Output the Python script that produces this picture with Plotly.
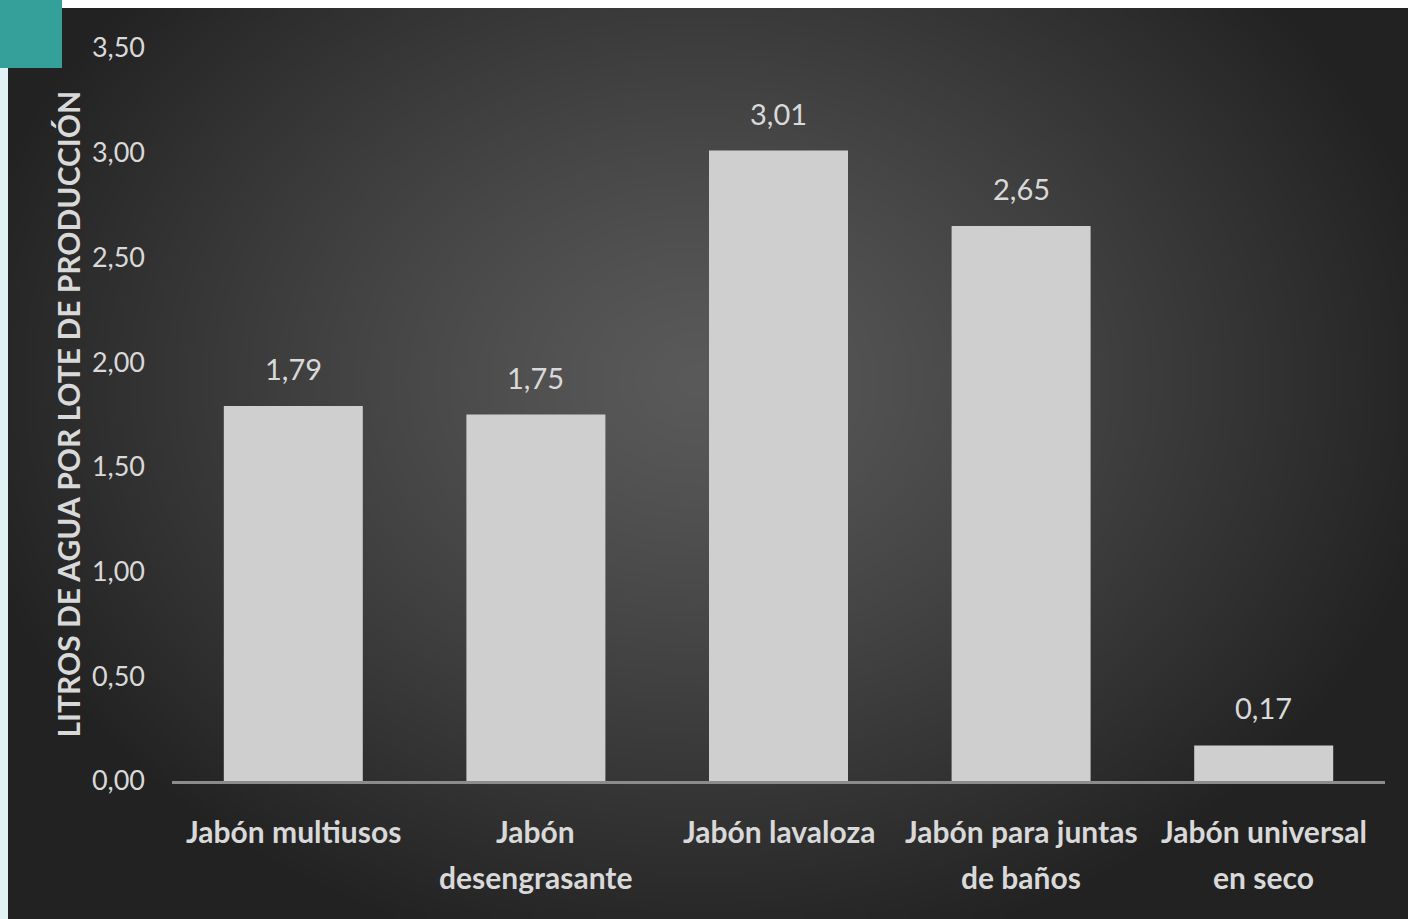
import plotly.graph_objects as go
import numpy as np
import zlib, struct, base64

# ---- data ----
categories = ["Jabón multiusos", "Jabón<br>desengrasante", "Jabón lavaloza",
              "Jabón para juntas<br>de baños", "Jabón universal<br>en seco"]
values = [1.79, 1.75, 3.01, 2.65, 0.17]
value_labels = ["1,79", "1,75", "3,01", "2,65", "0,17"]
y_tick_vals = [0, 0.5, 1.0, 1.5, 2.0, 2.5, 3.0, 3.5]
y_tick_text = ["0,00", "0,50", "1,00", "1,50", "2,00", "2,50", "3,00", "3,50"]
y_title = "LITROS DE AGUA POR LOTE DE PRODUCCIÓN"

# ---- canvas geometry ----
W, H = 1408, 919
ML, MR, MT, MB = 172, 23, 48, 138
PW, PH = W - ML - MR, H - MT - MB


def px_x(p):
    return (p - ML) / PW


def px_y(p):
    return (H - MB - p) / PH


# ---- radial gradient background as PNG ----
def gradient_png(w, h):
    xs = np.linspace(8, W, w)
    ys = np.linspace(8, H, h)
    X, Y = np.meshgrid(xs, ys)
    cx, cy, rx, ry = 700, 380, 760, 600
    d = np.sqrt(((X - cx) / rx) ** 2 + ((Y - cy) / ry) ** 2)
    v = 0x5a - (0x5a - 0x22) * np.clip(d, 0, 1) ** 1.2
    img = np.clip(v, 0, 255).astype(np.uint8)
    raw = b"".join(b"\x00" + img[r].tobytes() for r in range(h))

    def chunk(t, data):
        c = struct.pack(">I", len(data)) + t + data
        return c + struct.pack(">I", zlib.crc32(t + data) & 0xffffffff)

    png = b"\x89PNG\r\n\x1a\n" + chunk(b"IHDR", struct.pack(">IIBBBBB", w, h, 8, 0, 0, 0, 0)) \
        + chunk(b"IDAT", zlib.compress(raw, 9)) + chunk(b"IEND", b"")
    return "data:image/png;base64," + base64.b64encode(png).decode()


bg = gradient_png(350, 228)

fig = go.Figure()
fig.add_trace(go.Bar(
    x=categories, y=values,
    marker=dict(color="#d0cfd0", line=dict(width=0)),
    hoverinfo="skip",
))

annotations = []
# value labels above bars
for c, v, t in zip(categories, values, value_labels):
    annotations.append(dict(
        x=c, y=v, xref="x", yref="y", text=t, showarrow=False,
        yanchor="bottom", yshift=18,
        font=dict(family="Lato", size=29, color="#d9d9d9"),
    ))
# category labels (one annotation per line for Office-like line spacing)
for c in categories:
    for j, line in enumerate(c.split("<br>")):
        annotations.append(dict(
            x=c, y=0, xref="x", yref="paper", text=line, showarrow=False,
            xanchor="center", yanchor="middle", yshift=-(50 + 46 * j),
            font=dict(family="Lato", size=30, color="#d9d9d9", weight="bold"),
        ))
# y axis title
annotations.append(dict(
    x=px_x(67), y=0.5, xref="paper", yref="paper", text=y_title,
    showarrow=False, textangle=-90, xanchor="center", yanchor="middle",
    font=dict(family="Lato", size=30, color="#d9d9d9", weight="bold"),
))

fig.update_layout(
    width=W, height=H,
    margin=dict(l=ML, r=MR, t=MT, b=MB, pad=0),
    paper_bgcolor="#ffffff",
    plot_bgcolor="rgba(0,0,0,0)",
    bargap=0.427,
    showlegend=False,
    annotations=annotations,
    images=[dict(
        source=bg, xref="paper", yref="paper",
        x=px_x(8), y=px_y(8), sizex=(W - 8) / PW, sizey=(H - 8) / PH,
        xanchor="left", yanchor="top", sizing="stretch", layer="below",
    )],
    shapes=[
        dict(type="rect", xref="paper", yref="paper", x0=px_x(0), x1=px_x(8),
             y0=px_y(H), y1=px_y(68), fillcolor="#e2f1f3", line=dict(width=0), layer="above"),
        dict(type="rect", xref="paper", yref="paper", x0=px_x(0), x1=px_x(62),
             y0=px_y(68), y1=px_y(0), fillcolor="#35a09a", line=dict(width=0), layer="above"),
    ],
    xaxis=dict(
        showgrid=False, zeroline=False, showline=True, linecolor="#8c8c8c", linewidth=2.5,
        ticks="", showticklabels=False, fixedrange=True,
    ),
    yaxis=dict(
        range=[0, 3.5], tickvals=y_tick_vals, ticktext=y_tick_text,
        showgrid=False, zeroline=False, showline=False, ticks="",
        ticklabelstandoff=26,
        tickfont=dict(family="Lato", size=27, color="#d9d9d9"),
        fixedrange=True,
    ),
)

fig.write_html("out.html", config={"displayModeBar": False},
               post_script="document.body.style.margin='0';document.body.style.overflow='hidden';")
